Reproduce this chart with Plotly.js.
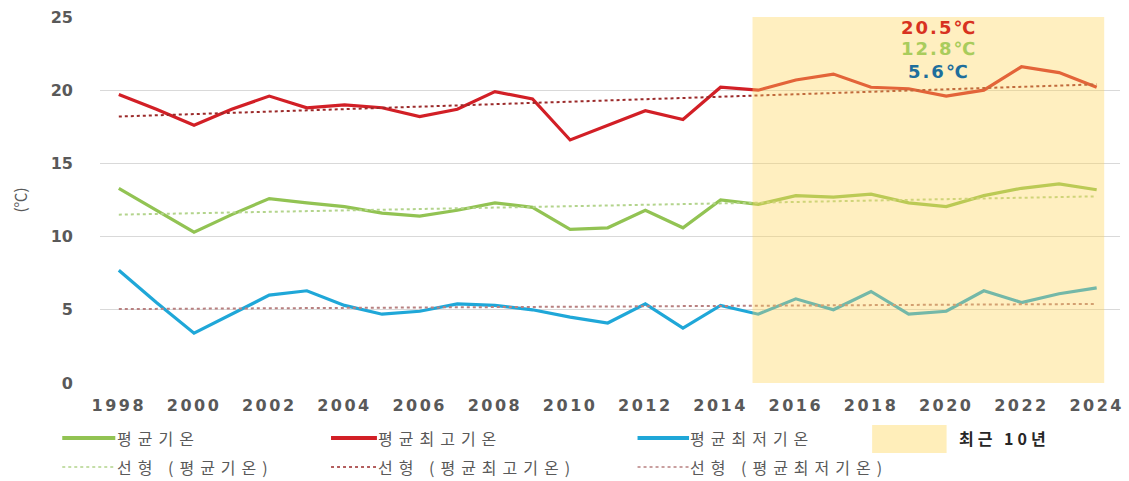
<!DOCTYPE html>
<html>
<head>
<meta charset="utf-8">
<script src="https://cdn.plot.ly/plotly-3.0.1.min.js"></script>
<style>
  html, body { margin: 0; padding: 0; background: #ffffff; }
  #chart { width: 1129px; height: 481px; }
  .xtick text { letter-spacing: 2.5px; }
</style>
</head>
<body>
<div id="chart"></div>
<script>
// ---- data ----
const years = [1998, 1999, 2000, 2001, 2002, 2003, 2004, 2005, 2006, 2007, 2008, 2009, 2010,
               2011, 2012, 2013, 2014, 2015, 2016, 2017, 2018, 2019, 2020, 2021, 2022, 2023, 2024];
const avgTemp = [13.3, 11.8, 10.3, 11.5, 12.6, 12.3, 12.05, 11.6, 11.4, 11.8, 12.3, 12.0, 10.5,
                 10.6, 11.8, 10.6, 12.5, 12.2, 12.8, 12.7, 12.9, 12.3, 12.05, 12.8, 13.3, 13.6, 13.2];
const maxTemp = [19.7, 18.7, 17.6, 18.7, 19.6, 18.8, 19.0, 18.8, 18.2, 18.7, 19.9, 19.4, 16.6,
                 17.6, 18.6, 18.0, 20.2, 20.0, 20.7, 21.1, 20.2, 20.1, 19.6, 20.0, 21.6, 21.2, 20.2];
const minTemp = [7.7, 5.5, 3.4, 4.7, 6.0, 6.3, 5.3, 4.7, 4.9, 5.4, 5.3, 5.0, 4.5,
                 4.1, 5.4, 3.75, 5.3, 4.7, 5.75, 5.0, 6.25, 4.7, 4.9, 6.3, 5.5, 6.1, 6.5];
// linear trend lines (end points)
const trendYears = [1998, 2024];
const avgTrend = [11.5, 12.75];
const maxTrend = [18.2, 20.4];
const minTrend = [5.05, 5.4];
// recent 10 years band
const recentYears = [2015, 2024];
const xTickYears = [1998, 2000, 2002, 2004, 2006, 2008, 2010, 2012, 2014, 2016, 2018, 2020, 2022, 2024];
const yTicks = [0, 5, 10, 15, 20, 25];
const seriesNames = ['평균기온', '평균최고기온', '평균최저기온'];
const trendNames = ['선형 (평균기온)', '선형 (평균최고기온)', '선형 (평균최저기온)'];
const bandLabel = '최근 10년';

// ---- styles ----
const GREEN = '#92c353', RED = '#d21f26', BLUE = '#1fa7d8';
const TGREEN = '#b3d48c', TRED = '#9b2a2a', TBLUE = '#b88080';
const GRAY = '#595959';
const KR = '"Noto Sans CJK KR", "Noto Sans", sans-serif';
const NUM = '"DejaVu Sans", sans-serif';

function recentMean(arr) {
  const sel = arr.filter((v, i) => years[i] >= recentYears[0] && years[i] <= recentYears[1]);
  return sel.reduce((a, b) => a + b, 0) / sel.length;
}

const mainColors = [GREEN, RED, BLUE];
const trendColors = [TGREEN, TRED, TBLUE];
const mainData = [avgTemp, maxTemp, minTemp];
const trendData = [avgTrend, maxTrend, minTrend];

const traces = [];
for (let i = 0; i < 3; i++) {
  traces.push({x: years, y: mainData[i], name: seriesNames[i], type: 'scatter', mode: 'lines',
               line: {color: mainColors[i], width: 3.2}, showlegend: false});
}
for (let i = 0; i < 3; i++) {
  traces.push({x: trendYears, y: trendData[i], name: trendNames[i], type: 'scatter', mode: 'lines',
               line: {color: trendColors[i], width: 2, dash: 'dot'}, showlegend: false});
}

// ---- hand-drawn legend (paper coordinates) ----
const legCols = [{x0: -0.037, x1: 0.015, tx: 0.0145},
                 {x0: 0.2265, x1: 0.2715, tx: 0.271},
                 {x0: 0.527, x1: 0.5775, tx: 0.5765}];
const legRows = [-0.1503, -0.2295];
const shapes = [
  {type: 'rect', xref: 'x', yref: 'paper', x0: recentYears[0] - 0.15, x1: recentYears[1] + 0.2,
   y0: 0, y1: 1, fillcolor: 'rgba(255,214,90,0.38)', line: {width: 0}, layer: 'above'},
  {type: 'rect', xref: 'paper', yref: 'paper', x0: 0.757, x1: 0.830, y0: -0.115, y1: -0.191,
   fillcolor: 'rgba(255,214,90,0.42)', line: {width: 0}}
];
const annotations = [
  {xref: 'x', yref: 'y', x: 2019.8, y: 24.3, showarrow: false,
   text: '<b>' + recentMean(maxTemp).toFixed(1) + '℃</b>',
   font: {family: NUM, size: 18, color: '#d8321f'}},
  {xref: 'x', yref: 'y', x: 2019.8, y: 22.85, showarrow: false,
   text: '<b>' + recentMean(avgTemp).toFixed(1) + '℃</b>',
   font: {family: NUM, size: 18, color: '#a9cc5c'}},
  {xref: 'x', yref: 'y', x: 2019.8, y: 21.3, showarrow: false,
   text: '<b>' + recentMean(minTemp).toFixed(1) + '℃</b>',
   font: {family: NUM, size: 18, color: '#1e6e9c'}},
  {xref: 'paper', yref: 'paper', x: 0.840, y: -0.151, xanchor: 'left', yanchor: 'middle',
   showarrow: false, text: '<b>' + bandLabel + '</b>',
   font: {family: KR, size: 16, color: '#262626'}}
];
for (let i = 0; i < 3; i++) {
  const c = legCols[i];
  shapes.push({type: 'line', xref: 'paper', yref: 'paper', x0: c.x0, x1: c.x1,
               y0: legRows[0], y1: legRows[0], line: {color: mainColors[i], width: 4}});
  shapes.push({type: 'line', xref: 'paper', yref: 'paper', x0: c.x0, x1: c.x1,
               y0: legRows[1], y1: legRows[1], line: {color: trendColors[i], width: 1.5, dash: 'dot'}});
  annotations.push({xref: 'paper', yref: 'paper', x: c.tx, y: legRows[0], xanchor: 'left',
                    yanchor: 'middle', showarrow: false, text: seriesNames[i],
                    font: {family: KR, size: 16, color: GRAY}});
  annotations.push({xref: 'paper', yref: 'paper', x: c.tx, y: legRows[1], xanchor: 'left',
                    yanchor: 'middle', showarrow: false, text: trendNames[i],
                    font: {family: KR, size: 16, color: GRAY}});
}

const layout = {
  width: 1129, height: 481,
  margin: {l: 100, r: 9, t: 17, b: 98, autoexpand: false},
  paper_bgcolor: '#ffffff', plot_bgcolor: '#ffffff',
  showlegend: false,
  xaxis: {
    range: [1997.5, 2024.62], tickmode: 'array', tickvals: xTickYears,
    ticktext: xTickYears.map(String), showgrid: false, zeroline: false, showline: false,
    ticks: '', tickfont: {family: NUM, size: 16, color: GRAY, weight: 'bold'},
    ticklabelstandoff: 11, fixedrange: true
  },
  yaxis: {
    range: [0, 25], tickmode: 'array', tickvals: yTicks, ticktext: yTicks.map(String),
    showgrid: true, gridcolor: '#d9d9d9', gridwidth: 1, zeroline: false, showline: false,
    ticks: '', tickfont: {family: NUM, size: 16, color: GRAY, weight: 'bold'},
    ticklabelstandoff: 26,
    title: {text: '(℃)', font: {family: KR, size: 15, color: GRAY}, standoff: 20},
    fixedrange: true
  },
  shapes: shapes,
  annotations: annotations
};

Plotly.newPlot('chart', traces, layout, {staticPlot: true, displayModeBar: false}).then(function () {
  var ann = document.querySelectorAll('.infolayer .annotation-text');
  ann.forEach(function (t, i) {
    var b0 = t.getBBox();
    t.style.letterSpacing = (i < 3) ? '2px' : (i === 3 ? '4px' : '6px');
    if (i >= 3) {
      // keep the left edge where it was (these labels are left-anchored)
      var b1 = t.getBBox();
      var shift = b0.x - b1.x;
      var x = parseFloat(t.getAttribute('x')) || 0;
      t.setAttribute('x', x + shift);
    }
  });
});
</script>
</body>
</html>
